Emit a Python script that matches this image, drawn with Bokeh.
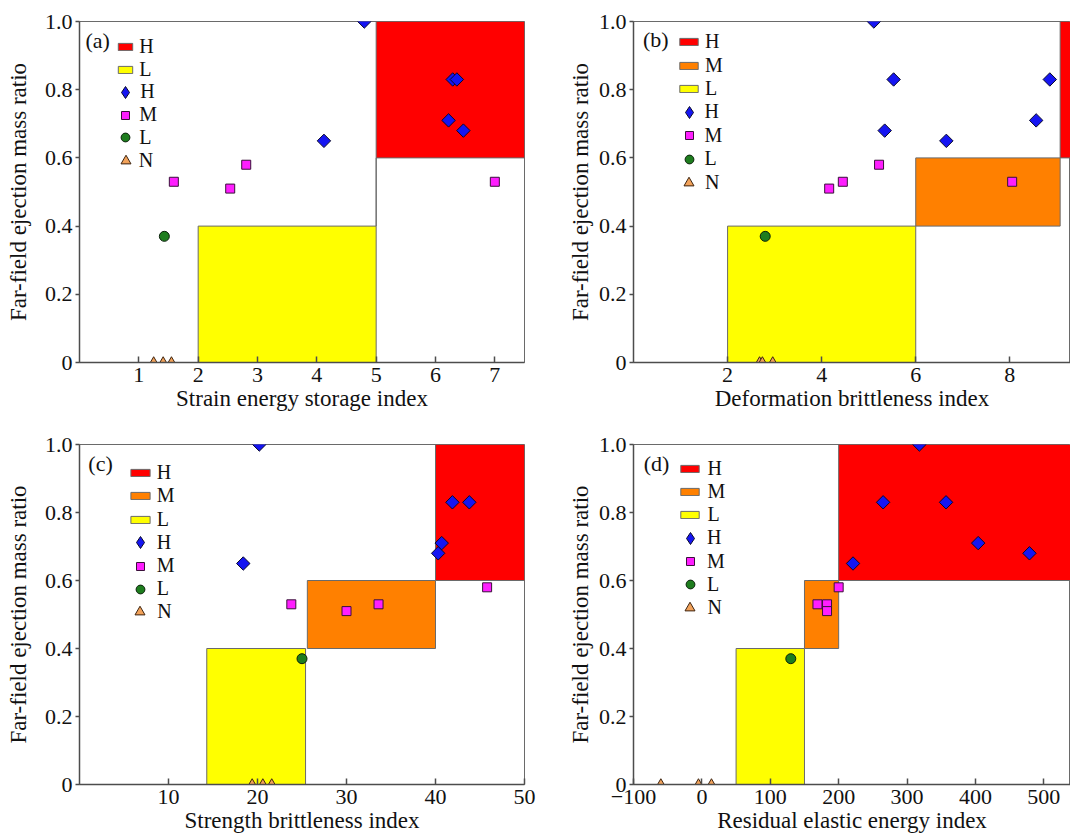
import math
from bokeh.plotting import figure
from bokeh.models import Legend, LegendItem, FixedTicker, Label, Range1d
from bokeh.layouts import column, row
from bokeh.embed import file_html
from bokeh.resources import INLINE

FONT = "'Liberation Serif'"

# ---------------- data ----------------
y_ticks = [0, 0.2, 0.4, 0.6, 0.8, 1.0]
y_tick_labels = ["0", "0.2", "0.4", "0.6", "0.8", "1.0"]
y_label = "Far-field ejection mass ratio"

# far-field ejection mass ratio of each case (shared by all panels)
h_y = [1.0, 0.83, 0.83, 0.71, 0.68, 0.65]
m_y = [0.58, 0.53, 0.53, 0.51]
l_y = [0.37]
n_y = [0.0, 0.0, 0.0]

# (a) strain energy storage index
a_h_x = [4.80, 6.29, 6.36, 6.22, 6.47, 4.12]
a_m_x = [2.81, 1.59, 7.00, 2.54]
a_l_x = [1.43]
a_n_x = [1.25, 1.41, 1.55]
a_xticks = [1, 2, 3, 4, 5, 6, 7]
a_xtick_labels = ["1", "2", "3", "4", "5", "6", "7"]
a_zone_level = ["H", "M", "L"]
a_zone_left = [5.0, 5.0, 2.0]
a_zone_right = [7.5, 5.0, 5.0]
a_zone_bottom = [0.6, 0.4, 0.0]
a_zone_top = [1.0, 0.6, 0.4]
a_zone_in_legend = [True, False, True]

# (b) deformation brittleness index
b_h_x = [5.11, 5.53, 8.85, 8.56, 5.34, 6.65]
b_m_x = [5.22, 4.45, 8.05, 4.16]
b_l_x = [2.80]
b_n_x = [2.68, 2.74, 2.96]
b_xticks = [2, 4, 6, 8]
b_xtick_labels = ["2", "4", "6", "8"]
b_zone_level = ["H", "M", "L"]
b_zone_left = [9.07, 6.0, 2.0]
b_zone_right = [9.6, 9.07, 6.0]
b_zone_bottom = [0.6, 0.4, 0.0]
b_zone_top = [1.0, 0.6, 0.4]
b_zone_in_legend = [True, True, True]

# (c) strength brittleness index
c_h_x = [20.2, 41.9, 43.8, 40.7, 40.3, 18.4]
c_m_x = [45.8, 23.8, 33.6, 30.0]
c_l_x = [25.0]
c_n_x = [19.4, 20.6, 21.6]
c_xticks = [10, 20, 30, 40, 50]
c_xtick_labels = ["10", "20", "30", "40", "50"]
c_zone_level = ["H", "M", "L"]
c_zone_left = [40.0, 25.6, 14.3]
c_zone_right = [50.0, 40.0, 25.4]
c_zone_bottom = [0.6, 0.4, 0.0]
c_zone_top = [1.0, 0.6, 0.4]
c_zone_in_legend = [True, True, True]

# (d) residual elastic energy index
d_h_x = [318, 265, 357, 404, 479, 221]
d_m_x = [200, 169, 183, 183]
d_l_x = [130]
d_n_x = [-60, -5, 14]
d_xticks = [-100, 0, 100, 200, 300, 400, 500]
d_xtick_labels = ["\u2212100", "0", "100", "200", "300", "400", "500"]
d_zone_level = ["H", "M", "L"]
d_zone_left = [200, 150, 50]
d_zone_right = [560, 200, 150]
d_zone_bottom = [0.6, 0.4, 0.0]
d_zone_top = [1.0, 0.6, 0.4]
d_zone_in_legend = [True, True, True]

# ---------------- styles ----------------
ZONE_COLORS = {"H": "#ff0000", "M": "#ff8000", "L": "#ffff00"}
ZONE_LINE = "#6a6a6a"
AXIS_COLOR = "#4d4d4d"
TXT = "#111111"

H_STYLE = dict(fill_color="#1515f2", line_color="#0a0a2a", line_width=1)
M_STYLE = dict(fill_color="#ff1eff", line_color="#3a103a", line_width=1)
L_STYLE = dict(fill_color="#1e7d1e", line_color="#0a200a", line_width=1)
N_STYLE = dict(fill_color="#f2a25a", line_color="#3d2410", line_width=1)


def add_legend(p, label, renderer, cx, cy, fh, gw, gh, label_x):
    rh = max(gh, 24)
    leg = Legend(items=[LegendItem(label=label, renderers=[renderer])],
                 location=(cx - gw / 2, fh - cy - rh / 2),
                 glyph_width=gw, glyph_height=gh, label_height=rh, spacing=0,
                 padding=0, margin=0, border_line_color=None, background_fill_alpha=0,
                 label_standoff=int(round(label_x - (cx + gw / 2))),
                 label_text_font=FONT, label_text_font_size="20px", label_text_color=TXT)
    p.add_layout(leg)


def make_panel(tag, xlabel, xr, xticks, xtick_labels, hx, mx, lx, nx,
               zl, zleft, zright, zbottom, ztop, zleg,
               width, height, bl, br, bt, bb, fh,
               row0, pitch, leg_cx, label_x, tag_x, tag_y, zone_gw, ylab_standoff):
    p = figure(width=width, height=height, output_backend="svg", toolbar_location=None,
               x_range=Range1d(*xr), y_range=Range1d(0, 1),
               min_border_left=bl, min_border_right=br, min_border_top=bt, min_border_bottom=bb,
               background_fill_color="white", border_fill_color="white")
    p.grid.visible = False
    p.outline_line_color = "#6a6a6a"
    p.outline_line_width = 1

    zone_rs = []
    for i in range(len(zl)):
        r = p.quad(left=[zleft[i]], right=[zright[i]], bottom=[zbottom[i]], top=[ztop[i]],
                   fill_color=ZONE_COLORS[zl[i]], line_color=ZONE_LINE, line_width=1)
        if zleg[i]:
            zone_rs.append((zl[i], r))

    rh = p.scatter(hx, h_y, marker="square", angle=math.pi / 4, size=9.5, **H_STYLE)
    rm = p.scatter(mx, m_y, marker="square", size=9, **M_STYLE)
    rl = p.scatter(lx, l_y, marker="circle", size=10, **L_STYLE)
    rn = p.scatter(nx, n_y, marker="triangle", size=10, **N_STYLE)
    # legend-only renderer that shows the diamond symbol
    rh_leg = p.scatter(hx, h_y, marker="diamond", size=12, visible=False, **H_STYLE)

    p.xaxis.ticker = FixedTicker(ticks=xticks, minor_ticks=[])
    p.xaxis.major_label_overrides = dict(zip(xticks, xtick_labels))
    p.yaxis.ticker = FixedTicker(ticks=y_ticks, minor_ticks=[])
    p.yaxis.major_label_overrides = dict(zip(y_ticks, y_tick_labels))
    p.xaxis.axis_label = xlabel
    p.yaxis.axis_label = y_label
    for ax in (p.xaxis, p.yaxis):
        ax.axis_line_color = AXIS_COLOR
        ax.axis_line_width = 1.5
        ax.major_tick_line_color = AXIS_COLOR
        ax.major_tick_line_width = 1.5
        ax.minor_tick_line_color = None
        ax.major_label_text_font = FONT
        ax.major_label_text_font_size = "22px"
        ax.major_label_text_color = TXT
        ax.axis_label_text_font = FONT
        ax.axis_label_text_font_size = "23px"
        ax.axis_label_text_font_style = "normal"
        ax.axis_label_text_color = TXT
    p.xaxis.major_tick_in = 6
    p.xaxis.major_tick_out = 0
    p.yaxis.major_tick_in = 0
    p.yaxis.major_tick_out = 4
    p.yaxis.major_label_standoff = 3
    p.yaxis.axis_label_standoff = ylab_standoff
    p.xaxis.major_label_standoff = 5
    p.xaxis.axis_label_standoff = 1

    # legend: zone rectangles, then markers, one row each
    k = 0
    for lab, r in zone_rs:
        add_legend(p, lab, r, leg_cx, row0 + k * pitch, fh, zone_gw, 9, label_x)
        k += 1
    add_legend(p, "H", rh_leg, leg_cx, row0 + k * pitch, fh, 30, 30, label_x); k += 1
    add_legend(p, "M", rm, leg_cx, row0 + k * pitch, fh, 20, 20, label_x); k += 1
    add_legend(p, "L", rl, leg_cx, row0 + k * pitch, fh, 22, 22, label_x); k += 1
    add_legend(p, "N", rn, leg_cx, row0 + k * pitch, fh, 25, 25, label_x); k += 1

    p.add_layout(Label(x=tag_x, y=fh - tag_y, x_units="screen", y_units="screen", text=tag,
                       text_font=FONT, text_font_size="22px", text_baseline="middle",
                       text_align="left", text_color=TXT))
    return p


WA, WB = 561, 509
H1, H2 = 420, 420

pa = make_panel("(a)", "Strain energy storage index", (0, 7.5), a_xticks, a_xtick_labels,
                a_h_x, a_m_x, a_l_x, a_n_x,
                a_zone_level, a_zone_left, a_zone_right, a_zone_bottom, a_zone_top, a_zone_in_legend,
                WA, H1, 79, 37, 21, 58, 341,
                25.5, 22.7, 46.3, 60.1, 6, 18.5, 18, 11)
pb = make_panel("(b)", "Deformation brittleness index", (0, 9.29), b_xticks, b_xtick_labels,
                b_h_x, b_m_x, b_l_x, b_n_x,
                b_zone_level, b_zone_left, b_zone_right, b_zone_bottom, b_zone_top, b_zone_in_legend,
                WB, H1, 72, 0, 21, 58, 341,
                20.7, 23.4, 55.5, 71.7, 9.4, 18.3, 23, 3)
pc = make_panel("(c)", "Strength brittleness index", (0, 50), c_xticks, c_xtick_labels,
                c_h_x, c_m_x, c_l_x, c_n_x,
                c_zone_level, c_zone_left, c_zone_right, c_zone_bottom, c_zone_top, c_zone_in_legend,
                WA, H2, 79, 37, 24, 56, 340,
                28.7, 23.2, 60.7, 77.8, 8.8, 19.3, 24, 11)
pd = make_panel("(d)", "Residual elastic energy index", (-100, 539), d_xticks, d_xtick_labels,
                d_h_x, d_m_x, d_l_x, d_n_x,
                d_zone_level, d_zone_left, d_zone_right, d_zone_bottom, d_zone_top, d_zone_in_legend,
                WB, H2, 72, 0, 24, 56, 340,
                24.3, 23.2, 56.9, 74.0, 10.2, 19.3, 23, 3)

layout = column(row(pa, pb), row(pc, pd))
open("out.html", "w").write(file_html(layout, INLINE))
